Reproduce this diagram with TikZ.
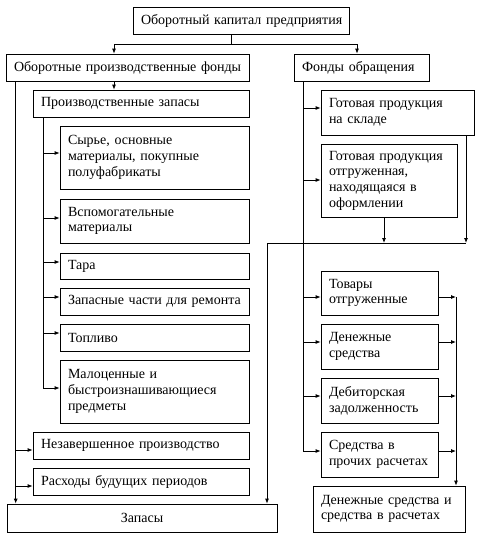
\documentclass[tikz,border=0pt]{standalone}
\usepackage{fontspec}
\setmainfont{Liberation Serif}
\usetikzlibrary{arrows.meta}
\begin{document}
\begin{tikzpicture}[x=1pt,y=-1pt,
  box/.style={draw, line width=0.8pt, rectangle, inner xsep=8pt, inner ysep=2pt, align=left,
    font=\fontsize{14}{15.7}\selectfont},
  cbox/.style={box, align=center},
  ln/.style={line width=0.8pt},
  arr/.style={ln, -{Latex[length=5pt,width=4pt]}}]
\useasboundingbox (0,0) rectangle (482,538);
% nodes: center, width, height
\newcommand{\bx}[7][box]{\node[#1, minimum width=#4pt, minimum height=#5pt, text width=#6pt] (#2) at (#3) {#7};}
\bx[cbox]{top}{241,20.5}{216}{27}{200}{\mbox{Оборотный капитал предприятия}}
\bx{opf}{127.5,67.5}{243}{27}{227}{\mbox{Оборотные производственные фонды}}
\bx{fo}{361.5,67.5}{135}{27}{119}{Фонды обращения}
\bx{pz}{141,103.5}{216}{27}{200}{Производственные запасы}
\bx{s1}{154.5,157.5}{189}{63}{173}{Сырье, основные\\материалы, покупные\\полуфабрикаты}
\bx{s2}{154.5,221}{189}{44}{173}{Вспомогательные\\материалы}
\bx{s3}{154.5,266}{189}{26}{173}{Тара}
\bx{s4}{154.5,301.5}{189}{27}{173}{\mbox{Запасные части для ремонта}}
\bx{s5}{154.5,337.5}{189}{27}{173}{Топливо}
\bx{s6}{154.5,391.5}{189}{63}{173}{Малоценные и\\\mbox{быстроизнашивающиеся}\\предметы}
\bx{nz}{141,445.5}{216}{27}{200}{\mbox{Незавершенное производство}}
\bx{rb}{141,481.5}{216}{27}{200}{\mbox{Расходы будущих периодов}}
\bx[cbox]{zap}{142,518}{270}{28}{254}{Запасы}
\bx{g1}{397.5,112.5}{153}{45}{137}{\mbox{Готовая продукция}\\на складе}
\bx{g2}{389,180.5}{136}{73}{120}{\mbox{Готовая продукция}\\отгруженная,\\находящаяся в\\оформлении}
\bx{t1}{379.5,293}{117}{44}{101}{Товары\\отгруженные}
\bx{t2}{379.5,346.5}{117}{45}{101}{Денежные\\средства}
\bx{t3}{379.5,400.5}{117}{45}{101}{Дебиторская\\\mbox{задолженность}}
\bx{t4}{379.5,454.5}{117}{45}{101}{Средства в\\\mbox{прочих расчетах}}
\bx{dc}{389,509}{152}{46}{136}{\mbox{Денежные средства и}\\\mbox{средства в расчетах}}
% top split
\coordinate (j0) at (231,44);
\draw[ln] (j0 |- top.south) -- (j0);
\draw[arr] (j0) -| (114,0 |- opf.north);
\draw[arr] (j0) -| (357,0 |- fo.north);
\draw[arr] (114,0 |- opf.south) -- (114,0 |- pz.north);
% left trunk
\draw[arr] (15.7,0 |- opf.south) -- (15.7,0 |- zap.north);
\draw[arr] (15.7,450) -- (nz.west |- 0,450);
\draw[arr] (15.7,486) -- (rb.west |- 0,486);
% inner trunk
\draw[arr] (43,0 |- pz.south) |- (s6.west |- 0,388);
\draw[arr] (43,153) -- (s1.west |- 0,153);
\draw[arr] (43,218) -- (s2.west |- 0,218);
\draw[arr] (43,262) -- (s3.west |- 0,262);
\draw[arr] (43,297) -- (s4.west |- 0,297);
\draw[arr] (43,333) -- (s5.west |- 0,333);
% right trunk
\draw[arr] (303,0 |- fo.south) |- (t4.west |- 0,451);
\draw[arr] (303,108) -- (g1.west |- 0,108);
\draw[arr] (303,180) -- (g2.west |- 0,180);
\draw[arr] (303,297) -- (t1.west |- 0,297);
\draw[arr] (303,342) -- (t2.west |- 0,342);
\draw[arr] (303,396) -- (t3.west |- 0,396);
% collector to Запасы
\draw[arr] (466,0 |- g1.south) -- (466,243);
\draw[arr] (384,0 |- g2.south) -- (384,243);
\draw[arr] (466,243) -- (267,243) -- (267,0 |- zap.north);
% collector to Денежные средства
\draw[arr] (t1.east |- 0,297) -- (456,297);
\draw[arr] (t2.east |- 0,342) -- (456,342);
\draw[arr] (t3.east |- 0,396) -- (456,396);
\draw[arr] (t4.east |- 0,451) -- (456,451);
\draw[arr] (456,297) -- (456,0 |- dc.north);
\end{tikzpicture}
\end{document}
